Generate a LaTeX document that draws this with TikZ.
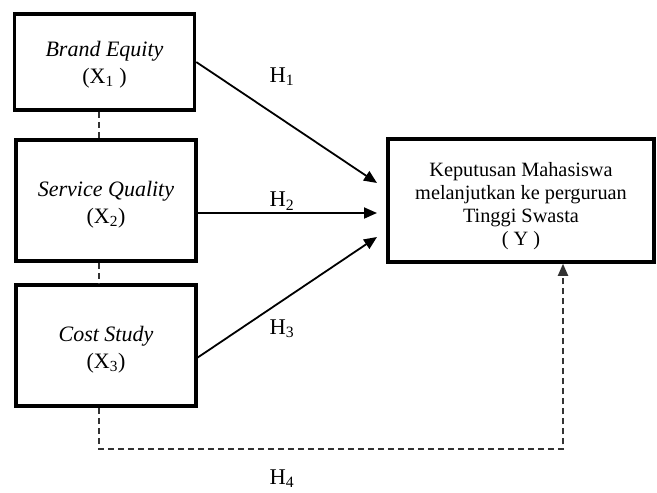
\documentclass[tikz,border=0pt]{standalone}
\usepackage{fontspec}
\setmainfont{Liberation Serif}
\usetikzlibrary{arrows.meta}
\begin{document}
\begin{tikzpicture}[x=1pt,y=-1pt,
  box/.style={draw, line width=3.5pt, inner sep=0pt},
  lefttext/.style={font=\fontsize{22}{27}\selectfont, align=center, inner sep=0pt},
  ytext/.style={font=\fontsize{20.3}{23}\selectfont, align=center, inner sep=0pt},
  hyp/.style={draw, line width=1.8pt, -{Triangle[length=13pt,width=11pt]}},
  dsh/.style={draw=black!80, line width=1.8pt, dash pattern=on 6pt off 4pt},
  hlab/.style={font=\fontsize{22.5}{26}\selectfont, inner sep=0pt}]
\useasboundingbox (0,0) rectangle (657,493);
\node[box, minimum width=180pt, minimum height=96pt] (X1) at (104.5,62) {};
\node[box, minimum width=180pt, minimum height=121pt] (X2) at (106,200.5) {};
\node[box, minimum width=180pt, minimum height=121pt] (X3) at (106,345.5) {};
\node[box, minimum width=266pt, minimum height=123pt] (Y) at (521,200.5) {};
\node[lefttext] (X1t) at (104.5,65) {\textit{Brand Equity}\\(X\textsubscript{1} )};
\node[lefttext] (X2t) at (106,205) {\textit{Service Quality}\\(X\textsubscript{2})};
\node[lefttext] (X3t) at (106,349.5) {\textit{Cost Study}\\(X\textsubscript{3})};
\node[ytext] (Yt) at (521,206) {Keputusan Mahasiswa\\melanjutkan ke perguruan\\Tinggi Swasta\\( Y )};
\coordinate (t1) at (377,183);
\coordinate (t2) at (377,213);
\coordinate (t3) at (377,237);
\coordinate (c2) at (563,449);
\path[hyp] (X1.east) -- (t1);
\path[hyp] (X2.east |- t2) -- (t2);
\path[hyp] ([yshift=-12pt]X3.east) -- (t3);
\path[dsh] ([xshift=-5.5pt]X1.south) -- ([xshift=-7pt]X2.north);
\path[dsh] ([xshift=-7pt]X2.south) -- ([xshift=-7pt]X3.north);
\path[dsh, -{Triangle[length=12pt,width=10pt]}] ([xshift=-7pt]X3.south) |- (c2) -- (Y.south -| c2);
\node[hlab] (h1) at (282,77) {H\textsubscript{1}};
\node[hlab] (h2) at (282,201) {H\textsubscript{2}};
\node[hlab] (h3) at (282,329) {H\textsubscript{3}};
\node[hlab] (h4) at (282,479) {H\textsubscript{4}};
\end{tikzpicture}
\end{document}
